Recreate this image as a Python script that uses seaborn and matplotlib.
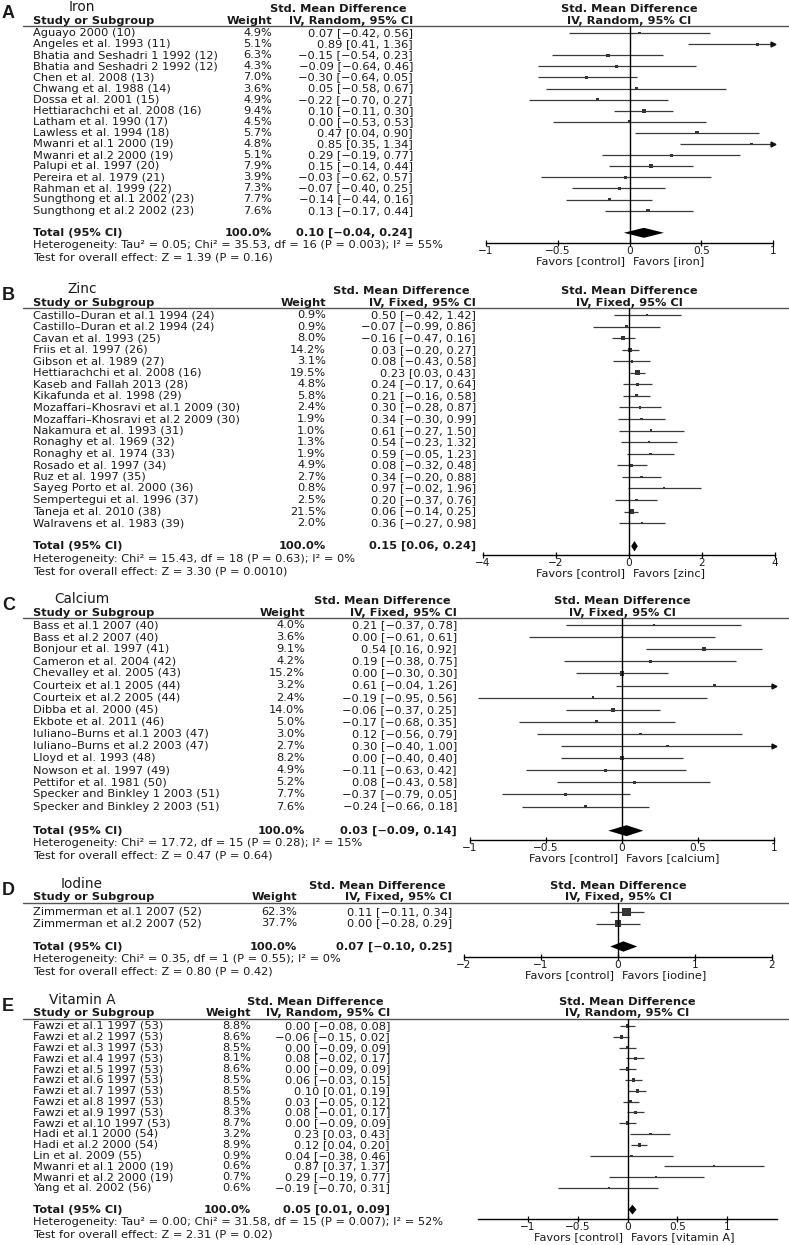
import numpy as np
import matplotlib.pyplot as plt
import seaborn as sns

# ---------------- A: Iron (IV, Random) ----------------
iron_names = ["Aguayo 2000 (10)", "Angeles et al. 1993 (11)", "Bhatia and Seshadri 1 1992 (12)",
              "Bhatia and Seshadri 2 1992 (12)", "Chen et al. 2008 (13)", "Chwang et al. 1988 (14)",
              "Dossa et al. 2001 (15)", "Hettiarachchi et al. 2008 (16)", "Latham et al. 1990 (17)",
              "Lawless et al. 1994 (18)", "Mwanri et al.1 2000 (19)", "Mwanri et al.2 2000 (19)",
              "Palupi et al. 1997 (20)", "Pereira et al. 1979 (21)", "Rahman et al. 1999 (22)",
              "Sungthong et al.1 2002 (23)", "Sungthong et al.2 2002 (23)"]
iron_weight = [4.9, 5.1, 6.3, 4.3, 7.0, 3.6, 4.9, 9.4, 4.5, 5.7, 4.8, 5.1, 7.9, 3.9, 7.3, 7.7, 7.6]
iron_est = [0.07, 0.89, -0.15, -0.09, -0.30, 0.05, -0.22, 0.10, 0.00, 0.47, 0.85, 0.29, 0.15, -0.03, -0.07, -0.14, 0.13]
iron_lo = [-0.42, 0.41, -0.54, -0.64, -0.64, -0.58, -0.70, -0.11, -0.53, 0.04, 0.35, -0.19, -0.14, -0.62, -0.40, -0.44, -0.17]
iron_hi = [0.56, 1.36, 0.23, 0.46, 0.05, 0.67, 0.27, 0.30, 0.53, 0.90, 1.34, 0.77, 0.44, 0.57, 0.25, 0.16, 0.44]
iron_total = [0.10, -0.04, 0.24]
iron_het = "Heterogeneity: Tau² = 0.05; Chi² = 35.53, df = 16 (P = 0.003); I² = 55%"
iron_test = "Test for overall effect: Z = 1.39 (P = 0.16)"
iron_ticks = [-1, -0.5, 0, 0.5, 1]
iron_ticklabels = ["\u22121", "\u22120.5", "0", "0.5", "1"]

# ---------------- B: Zinc (IV, Fixed) ----------------
zinc_names = ["Castillo\u2013Duran et al.1 1994 (24)", "Castillo\u2013Duran et al.2 1994 (24)",
              "Cavan et al. 1993 (25)", "Friis et al. 1997 (26)", "Gibson et al. 1989 (27)",
              "Hettiarachchi et al. 2008 (16)", "Kaseb and Fallah 2013 (28)", "Kikafunda et al. 1998 (29)",
              "Mozaffari\u2013Khosravi et al.1 2009 (30)", "Mozaffari\u2013Khosravi et al.2 2009 (30)",
              "Nakamura et al. 1993 (31)", "Ronaghy et al. 1969 (32)", "Ronaghy et al. 1974 (33)",
              "Rosado et al. 1997 (34)", "Ruz et al. 1997 (35)", "Sayeg Porto et al. 2000 (36)",
              "Sempertegui et al. 1996 (37)", "Taneja et al. 2010 (38)", "Walravens et al. 1983 (39)"]
zinc_weight = [0.9, 0.9, 8.0, 14.2, 3.1, 19.5, 4.8, 5.8, 2.4, 1.9, 1.0, 1.3, 1.9, 4.9, 2.7, 0.8, 2.5, 21.5, 2.0]
zinc_est = [0.50, -0.07, -0.16, 0.03, 0.08, 0.23, 0.24, 0.21, 0.30, 0.34, 0.61, 0.54, 0.59, 0.08, 0.34, 0.97, 0.20, 0.06, 0.36]
zinc_lo = [-0.42, -0.99, -0.47, -0.20, -0.43, 0.03, -0.17, -0.16, -0.28, -0.30, -0.27, -0.23, -0.05, -0.32, -0.20, -0.02, -0.37, -0.14, -0.27]
zinc_hi = [1.42, 0.86, 0.16, 0.27, 0.58, 0.43, 0.64, 0.58, 0.87, 0.99, 1.50, 1.32, 1.23, 0.48, 0.88, 1.96, 0.76, 0.25, 0.98]
zinc_total = [0.15, 0.06, 0.24]
zinc_het = "Heterogeneity: Chi² = 15.43, df = 18 (P = 0.63); I² = 0%"
zinc_test = "Test for overall effect: Z = 3.30 (P = 0.0010)"
zinc_ticks = [-4, -2, 0, 2, 4]
zinc_ticklabels = ["\u22124", "\u22122", "0", "2", "4"]

# ---------------- C: Calcium (IV, Fixed) ----------------
calc_names = ["Bass et al.1 2007 (40)", "Bass et al.2 2007 (40)", "Bonjour et al. 1997 (41)",
              "Cameron et al. 2004 (42)", "Chevalley et al. 2005 (43)", "Courteix et al.1 2005 (44)",
              "Courteix et al.2 2005 (44)", "Dibba et al. 2000 (45)", "Ekbote et al. 2011 (46)",
              "Iuliano\u2013Burns et al.1 2003 (47)", "Iuliano\u2013Burns et al.2 2003 (47)",
              "Lloyd et al. 1993 (48)", "Nowson et al. 1997 (49)", "Pettifor et al. 1981 (50)",
              "Specker and Binkley 1 2003 (51)", "Specker and Binkley 2 2003 (51)"]
calc_weight = [4.0, 3.6, 9.1, 4.2, 15.2, 3.2, 2.4, 14.0, 5.0, 3.0, 2.7, 8.2, 4.9, 5.2, 7.7, 7.6]
calc_est = [0.21, 0.00, 0.54, 0.19, 0.00, 0.61, -0.19, -0.06, -0.17, 0.12, 0.30, 0.00, -0.11, 0.08, -0.37, -0.24]
calc_lo = [-0.37, -0.61, 0.16, -0.38, -0.30, -0.04, -0.95, -0.37, -0.68, -0.56, -0.40, -0.40, -0.63, -0.43, -0.79, -0.66]
calc_hi = [0.78, 0.61, 0.92, 0.75, 0.30, 1.26, 0.56, 0.25, 0.35, 0.79, 1.00, 0.40, 0.42, 0.58, 0.05, 0.18]
calc_total = [0.03, -0.09, 0.14]
calc_het = "Heterogeneity: Chi² = 17.72, df = 15 (P = 0.28); I² = 15%"
calc_test = "Test for overall effect: Z = 0.47 (P = 0.64)"
calc_ticks = [-1, -0.5, 0, 0.5, 1]
calc_ticklabels = ["\u22121", "\u22120.5", "0", "0.5", "1"]

# ---------------- D: Iodine (IV, Fixed) ----------------
iod_names = ["Zimmerman et al.1 2007 (52)", "Zimmerman et al.2 2007 (52)"]
iod_weight = [62.3, 37.7]
iod_est = [0.11, 0.00]
iod_lo = [-0.11, -0.28]
iod_hi = [0.34, 0.29]
iod_total = [0.07, -0.10, 0.25]
iod_het = "Heterogeneity: Chi² = 0.35, df = 1 (P = 0.55); I² = 0%"
iod_test = "Test for overall effect: Z = 0.80 (P = 0.42)"
iod_ticks = [-2, -1, 0, 1, 2]
iod_ticklabels = ["\u22122", "\u22121", "0", "1", "2"]

# ---------------- E: Vitamin A (IV, Random) ----------------
vita_names = ["Fawzi et al.1 1997 (53)", "Fawzi et al.2 1997 (53)", "Fawzi et al.3 1997 (53)",
              "Fawzi et al.4 1997 (53)", "Fawzi et al.5 1997 (53)", "Fawzi et al.6 1997 (53)",
              "Fawzi et al.7 1997 (53)", "Fawzi et al.8 1997 (53)", "Fawzi et al.9 1997 (53)",
              "Fawzi et al.10 1997 (53)", "Hadi et al.1 2000 (54)", "Hadi et al.2 2000 (54)",
              "Lin et al. 2009 (55)", "Mwanri et al.1 2000 (19)", "Mwanri et al.2 2000 (19)",
              "Yang et al. 2002 (56)"]
vita_weight = [8.8, 8.6, 8.5, 8.1, 8.6, 8.5, 8.5, 8.5, 8.3, 8.7, 3.2, 8.9, 0.9, 0.6, 0.7, 0.6]
vita_est = [0.00, -0.06, 0.00, 0.08, 0.00, 0.06, 0.10, 0.03, 0.08, 0.00, 0.23, 0.12, 0.04, 0.87, 0.29, -0.19]
vita_lo = [-0.08, -0.15, -0.09, -0.02, -0.09, -0.03, 0.01, -0.05, -0.01, -0.09, 0.03, 0.04, -0.38, 0.37, -0.19, -0.70]
vita_hi = [0.08, 0.02, 0.09, 0.17, 0.09, 0.15, 0.19, 0.12, 0.17, 0.09, 0.43, 0.20, 0.46, 1.37, 0.77, 0.31]
vita_total = [0.05, 0.01, 0.09]
vita_het = "Heterogeneity: Tau² = 0.00; Chi² = 31.58, df = 15 (P = 0.007); I² = 52%"
vita_test = "Test for overall effect: Z = 2.31 (P = 0.02)"
vita_ticks = [-1, -0.5, 0, 0.5, 1]
vita_ticklabels = ["\u22121", "\u22120.5", "0", "0.5", "1"]

sns.set_theme(style="white")
plt.rcParams['font.family'] = ['DejaVu Sans']

W, H = 789, 1245
fig = plt.figure(figsize=(W / 100, H / 100), dpi=100)
bg = fig.add_axes([0, 0, 1, 1])
bg.set_xlim(0, W)
bg.set_ylim(H, 0)
bg.axis('off')

FS = 8.2
TXT = '#1a1a1a'
NARROW = ['Liberation Sans Narrow', 'DejaVu Sans']


def fmt(v):
    return f"{v:.2f}".replace('-', '\u2212')


def txt(x, y, s, ha='left', bold=False, va='center', **kw):
    bg.text(x, y, s, ha=ha, va=va, fontsize=kw.pop('fontsize', FS), color=TXT,
            fontweight='bold' if bold else 'normal', **kw)


def draw_panel(letter, title, method, favor, names, weight, est, lo, hi, total, het, test,
               xlim, ticks, ticklabels, line_y, y0, dy, axis_y, x_w, x_ci, ax_x):
    n = len(names)
    rows = np.arange(n)
    tot_row = n + 1
    tot_y = y0 + tot_row * dy
    cx = (ax_x[0] + ax_x[1]) / 2

    # header block
    txt(2, line_y - 8, letter, bold=True, fontsize=13, va='baseline',
        family=['Liberation Sans', 'DejaVu Sans'])
    txt(82, line_y - 15, title, ha='center', fontsize=9.8, va='baseline', family=NARROW)
    txt(x_ci - 6, line_y - 17, "Std. Mean Difference", ha='right', bold=True)
    txt(cx, line_y - 17, "Std. Mean Difference", ha='center', bold=True)
    txt(33, line_y - 5.5, "Study or Subgroup", bold=True)
    txt(x_w, line_y - 5.5, "Weight", ha='right', bold=True)
    txt(x_ci, line_y - 5.5, method, ha='right', bold=True)
    txt(cx, line_y - 5.5, method, ha='center', bold=True)
    bg.plot([23, W], [line_y, line_y], color='#555555', lw=1)

    # table rows
    for i in rows:
        y = y0 + i * dy
        txt(33, y, names[i])
        txt(x_w, y, f"{weight[i]:.1f}%", ha='right')
        txt(x_ci, y, f"{fmt(est[i])} [{fmt(lo[i])}, {fmt(hi[i])}]", ha='right')
    txt(33, tot_y, "Total (95% CI)", bold=True)
    txt(x_w, tot_y, "100.0%", ha='right', bold=True)
    txt(x_ci, tot_y, f"{fmt(total[0])} [{fmt(total[1])}, {fmt(total[2])}]", ha='right', bold=True)
    txt(33, tot_y + 12.5, het)
    txt(33, tot_y + 25, test)

    # forest plot
    ax = fig.add_axes([ax_x[0] / W, 1 - axis_y / H, (ax_x[1] - ax_x[0]) / W, (axis_y - line_y) / H])
    ax.patch.set_alpha(0)
    lo_a, hi_a = np.array(lo), np.array(hi)
    ax.hlines(rows, np.maximum(lo_a, xlim[0]), np.minimum(hi_a, xlim[1]), color='#3a3a3a', lw=0.9)
    over = hi_a >= xlim[1]
    if over.any():
        ax.plot(np.full(over.sum(), xlim[1]), rows[over], marker='>', ls='none', ms=3.5,
                color='#111111', clip_on=False)
    sns.scatterplot(x=est, y=rows, size=weight, sizes=(2, 55), size_norm=(0, 100), marker='s',
                    color='#333333', linewidth=0, legend=False, ax=ax)
    e, l, h = total
    ax.fill([l, e, h, e], [tot_row, tot_row - 0.45, tot_row, tot_row + 0.45], color='black', lw=0)
    ax.axvline(0, color='black', lw=1)
    ax.set_xlim(xlim)
    ax.set_ylim((axis_y - y0) / dy, (line_y - y0) / dy)
    ax.set_xlabel('')
    ax.set_ylabel('')
    for s in ['top', 'left', 'right']:
        ax.spines[s].set_visible(False)
    ax.spines['bottom'].set_color('black')
    ax.spines['bottom'].set_linewidth(1)
    ax.set_yticks([])
    ax.set_xticks(ticks, ticklabels)
    ax.tick_params(axis='x', bottom=True, direction='inout', length=5, width=0.9,
                   labelsize=7.6, pad=0, colors='black', labelcolor=TXT)

    txt(cx - 4, axis_y + 18, "Favors [control]", ha='right')
    txt(cx + 4, axis_y + 18, f"Favors [{favor}]")


draw_panel("A", "Iron", "IV, Random, 95% CI", "iron", iron_names, iron_weight, iron_est, iron_lo,
           iron_hi, iron_total, iron_het, iron_test, (-1, 1), iron_ticks, iron_ticklabels,
           line_y=26, y0=33, dy=11.1, axis_y=243, x_w=272, x_ci=413, ax_x=(486, 773))
draw_panel("B", "Zinc", "IV, Fixed, 95% CI", "zinc", zinc_names, zinc_weight, zinc_est, zinc_lo,
           zinc_hi, zinc_total, zinc_het, zinc_test, (-4, 4), zinc_ticks, zinc_ticklabels,
           line_y=308, y0=315, dy=11.56, axis_y=555, x_w=326, x_ci=476, ax_x=(483, 775))
draw_panel("C", "Calcium", "IV, Fixed, 95% CI", "calcium", calc_names, calc_weight, calc_est, calc_lo,
           calc_hi, calc_total, calc_het, calc_test, (-1, 1), calc_ticks, calc_ticklabels,
           line_y=618, y0=625, dy=12.1, axis_y=840, x_w=305, x_ci=457, ax_x=(470, 774))
draw_panel("D", "Iodine", "IV, Fixed, 95% CI", "iodine", iod_names, iod_weight, iod_est, iod_lo,
           iod_hi, iod_total, iod_het, iod_test, (-2, 2), iod_ticks, iod_ticklabels,
           line_y=903, y0=912, dy=11.5, axis_y=957, x_w=297, x_ci=452, ax_x=(464, 772))
draw_panel("E", "Vitamin A", "IV, Random, 95% CI", "vitamin A", vita_names, vita_weight, vita_est,
           vita_lo, vita_hi, vita_total, vita_het, vita_test, (-1.5, 1.5), vita_ticks, vita_ticklabels,
           line_y=1019, y0=1026, dy=10.8, axis_y=1219, x_w=251, x_ci=390, ax_x=(478, 777))

fig.savefig("out.png", dpi=100)
